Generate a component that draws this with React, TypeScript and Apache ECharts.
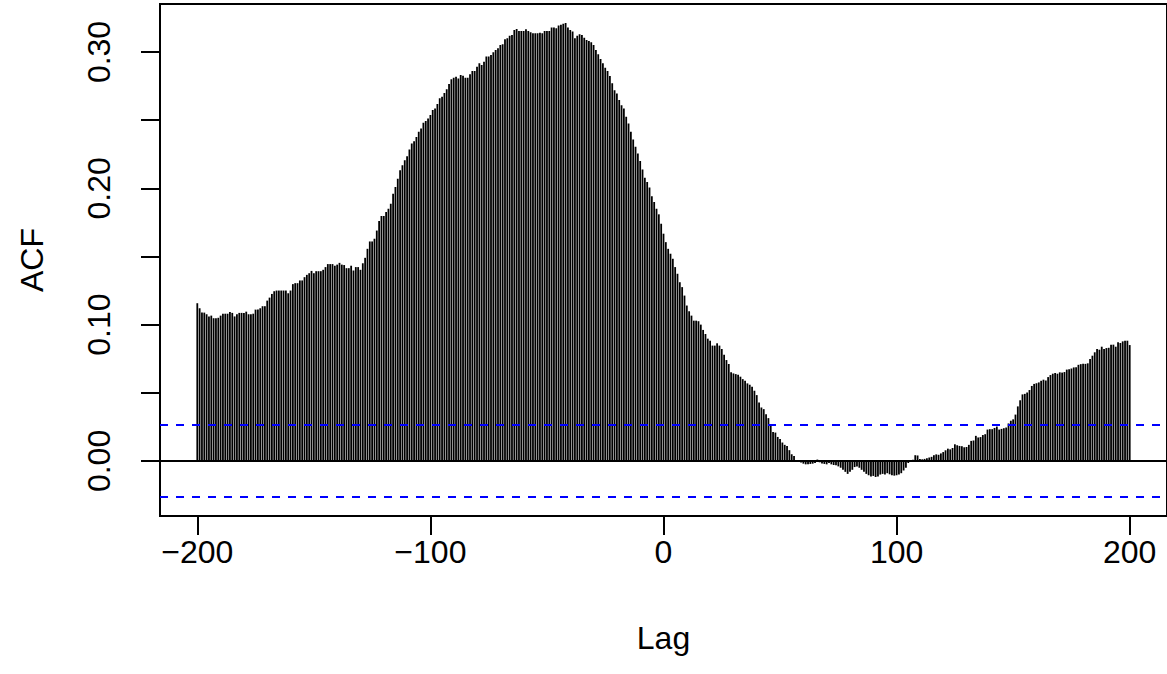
import React, { useEffect, useRef } from "react";
import * as echarts from "echarts";

// ACF values by lag, lag -200 .. 200
const acfA = [ // -200 .. -165
  0.1157,0.1120,0.1088,0.1088,0.1076,0.1059,0.1066,0.1047,0.1047,0.1050,
  0.1066,0.1080,0.1080,0.1080,0.1093,0.1086,0.1060,0.1076,0.1086,0.1086,
  0.1086,0.1095,0.1076,0.1076,0.1080,0.1110,0.1110,0.1120,0.1135,0.1135,
  0.1176,0.1198,0.1225,0.1245,0.1250,0.1250,
];
const acfB = [ // -164 .. -128
  0.1250,0.1250,0.1250,0.1230,0.1250,0.1297,0.1304,0.1304,0.1324,0.1324,
  0.1348,0.1365,0.1377,0.1394,0.1377,0.1392,0.1392,0.1392,0.1402,0.1422,
  0.1444,0.1444,0.1444,0.1432,0.1440,0.1453,0.1440,0.1437,0.1414,0.1414,
  0.1432,0.1397,0.1422,0.1422,0.1402,0.1450,0.1490,
];
const acfC = [ // -127 .. -91
  0.1556,0.1610,0.1610,0.1630,0.1690,0.1760,0.1797,0.1797,0.1826,0.1850,
  0.1887,0.1960,0.2010,0.2070,0.2132,0.2169,0.2206,0.2235,0.2284,0.2328,
  0.2346,0.2377,0.2414,0.2439,0.2480,0.2493,0.2512,0.2537,0.2574,0.2586,
  0.2618,0.2660,0.2672,0.2700,0.2726,0.2765,0.2800,
];
const acfD = [ // -90 .. -55
  0.2811,0.2819,0.2806,0.2831,0.2826,0.2811,0.2811,0.2836,0.2860,0.2860,
  0.2892,0.2917,0.2904,0.2929,0.2966,0.2966,0.2978,0.2998,0.3015,0.3027,
  0.3051,0.3057,0.3093,0.3100,0.3120,0.3125,0.3162,0.3169,0.3154,0.3154,
  0.3154,0.3167,0.3154,0.3145,0.3137,0.3137,
];
const acfE = [ // -54 .. -18
  0.3137,0.3142,0.3137,0.3154,0.3154,0.3154,0.3179,0.3179,0.3174,0.3194,
  0.3199,0.3208,0.3213,0.3180,0.3162,0.3150,0.3100,0.3120,0.3130,0.3125,
  0.3105,0.3088,0.3080,0.3071,0.3051,0.3015,0.2983,0.2949,0.2917,0.2885,
  0.2860,0.2824,0.2770,0.2720,0.2696,0.2647,0.2610,
];
const acfF = [ // -17 .. 19
  0.2586,0.2525,0.2476,0.2414,0.2358,0.2304,0.2255,0.2201,0.2137,0.2078,
  0.2047,0.2005,0.1941,0.1899,0.1850,0.1809,0.1740,0.1667,0.1605,0.1556,
  0.1520,0.1483,0.1422,0.1373,0.1311,0.1275,0.1213,0.1140,0.1098,0.1066,
  0.1029,0.1029,0.1025,0.1000,0.0961,0.0931,0.0897,
];
const acfG = [ // 20 .. 56
  0.0882,0.0846,0.0846,0.0863,0.0846,0.0821,0.0779,0.0740,0.0711,0.0650,
  0.0642,0.0637,0.0632,0.0618,0.0600,0.0588,0.0569,0.0559,0.0544,0.0515,
  0.0483,0.0429,0.0392,0.0380,0.0343,0.0314,0.0265,0.0213,0.0208,0.0176,
  0.0160,0.0135,0.0118,0.0110,0.0079,0.0049,0.0037,
];
const acfH = [ // 57 .. 93
  -0.0005,-0.0008,-0.0012,-0.0020,-0.0025,-0.0025,-0.0022,-0.0020,-0.0015,0.0010,
  -0.0010,-0.0018,-0.0022,-0.0025,-0.0015,-0.0025,-0.0030,-0.0032,-0.0040,-0.0050,
  -0.0065,-0.0080,-0.0095,-0.0080,-0.0065,-0.0045,-0.0040,-0.0050,-0.0065,-0.0080,
  -0.0095,-0.0105,-0.0115,-0.0110,-0.0118,-0.0115,-0.0100,
];
const acfI = [ // 94 .. 130
  -0.0095,-0.0100,-0.0090,-0.0098,-0.0105,-0.0108,-0.0105,-0.0100,-0.0090,-0.0070,
  -0.0050,-0.0015,0.0005,0.0008,0.0042,0.0040,0.0015,0.0012,0.0015,0.0020,
  0.0025,0.0030,0.0042,0.0048,0.0045,0.0055,0.0065,0.0078,0.0090,0.0085,
  0.0095,0.0122,0.0115,0.0110,0.0108,0.0100,0.0102,
];
const acfJ = [ // 131 .. 167
  0.0118,0.0147,0.0150,0.0184,0.0172,0.0175,0.0190,0.0196,0.0230,0.0233,
  0.0233,0.0242,0.0252,0.0230,0.0235,0.0240,0.0245,0.0275,0.0295,0.0305,
  0.0340,0.0400,0.0445,0.0488,0.0492,0.0502,0.0520,0.0550,0.0565,0.0570,
  0.0576,0.0588,0.0596,0.0590,0.0615,0.0630,0.0640,
];
const acfK = [ // 168 .. 200
  0.0645,0.0640,0.0650,0.0648,0.0652,0.0670,0.0672,0.0678,0.0686,0.0688,
  0.0705,0.0710,0.0712,0.0712,0.0716,0.0748,0.0772,0.0797,0.0821,0.0816,
  0.0838,0.0821,0.0828,0.0830,0.0853,0.0853,0.0838,0.0870,0.0865,0.0877,
  0.0882,0.0882,0.0850,
];

const firstLag = -200;
const ciLimit = 0.0265;
const xTicks = [-200, -100, 0, 100, 200];
const yTicks = [0, 0.05, 0.1, 0.15, 0.2, 0.25, 0.3];
const yLabels = [0, 0.1, 0.2, 0.3];

const acfValues = [
  ...acfA, ...acfB, ...acfC, ...acfD, ...acfE, ...acfF,
  ...acfG, ...acfH, ...acfI, ...acfJ, ...acfK,
];

const FONT = "'Liberation Sans', Arial, Helvetica, sans-serif";
const FS = 32;

export default function App() {
  const ref = useRef<HTMLDivElement>(null);
  useEffect(() => {
    if (!ref.current) return;
    const chart = echarts.init(ref.current, undefined, { renderer: "svg" });
    const data = acfValues.map((v, i) => [firstLag + i, v]);
    chart.setOption({
      animation: false,
      backgroundColor: "#ffffff",
      grid: {
        left: 160,
        top: 4,
        width: 1009,
        height: 512,
        show: true,
        borderColor: "#000",
        borderWidth: 2,
        backgroundColor: "transparent",
      },
      xAxis: {
        type: "value",
        min: -216,
        max: 216,
        name: "Lag",
        nameLocation: "middle",
        nameGap: 106,
        nameTextStyle: { fontFamily: FONT, fontSize: FS, color: "#000" },
        axisLine: { show: false, onZero: false },
        splitLine: { show: false },
        axisTick: {
          show: true,
          length: 19,
          customValues: xTicks,
          lineStyle: { color: "#000", width: 2 },
        },
        axisLabel: {
          customValues: xTicks,
          margin: 20,
          fontFamily: FONT,
          fontSize: FS,
          color: "#000",
          formatter: (v: number) => (v < 0 ? "\u2212" + Math.abs(v) : String(v)),
        },
      },
      yAxis: {
        type: "value",
        min: -0.0404,
        max: 0.3352,
        name: "ACF",
        nameLocation: "middle",
        nameGap: 112,
        nameRotate: 90,
        nameTextStyle: { fontFamily: FONT, fontSize: FS, color: "#000" },
        axisLine: { show: false, onZero: false },
        splitLine: { show: false },
        axisTick: {
          show: true,
          length: 19,
          customValues: yTicks,
          lineStyle: { color: "#000", width: 2 },
        },
        axisLabel: {
          customValues: yLabels,
          rotate: 90,
          margin: 45,
          fontFamily: FONT,
          fontSize: FS,
          color: "#000",
          formatter: (v: number) => v.toFixed(2),
        },
      },
      series: [
        {
          type: "bar",
          data,
          barWidth: 1.8,
          itemStyle: { color: "#000" },
          silent: true,
          markLine: {
            silent: true,
            symbol: "none",
            precision: 6,
            label: { show: false },
            data: [
              { yAxis: 0, lineStyle: { color: "#000", width: 2, type: "solid" } },
              { yAxis: ciLimit, lineStyle: { color: "#0000ff", width: 2, type: [8, 8] } },
              { yAxis: -ciLimit, lineStyle: { color: "#0000ff", width: 2, type: [8, 8] } },
            ],
          },
        },
      ],
    });
    return () => chart.dispose();
  }, []);
  return (
    <div
      ref={ref}
      style={{ position: "absolute", left: 0, top: 0, width: 1167, height: 674 }}
    />
  );
}
